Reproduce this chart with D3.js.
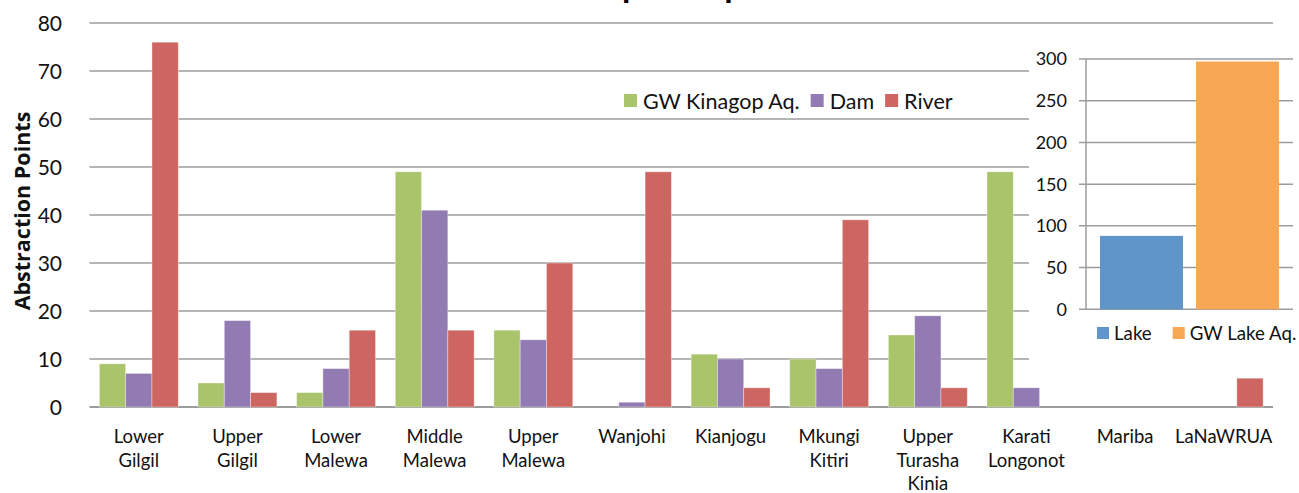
<!DOCTYPE html>
<html>
<head>
<meta charset="utf-8">
<script src="https://cdn.jsdelivr.net/npm/d3@7"></script>
<style>
  html, body { margin: 0; padding: 0; background: #fff; }
  svg { display: block; font-family: Lato, "Open Sans", sans-serif; }
</style>
</head>
<body>
<svg id="chart" width="1299" height="493"></svg>
<script>
// Abstraction points per sub-catchment, split by water source
const categories = ["Lower Gilgil", "Upper Gilgil", "Lower Malewa", "Middle Malewa", "Upper Malewa",
  "Wanjohi", "Kianjogu", "Mkungi Kitiri", "Upper Turasha Kinia", "Karati Longonot", "Mariba", "LaNaWRUA"];
const seriesNames = ["GW Kinagop Aq.", "Dam", "River"];
const gwKinagop = [9, 5, 3, 49, 16, 0, 11, 10, 15, 49, 0, 0];
const dam = [7, 18, 8, 41, 14, 1, 10, 8, 19, 4, 0, 0];
const river = [76, 3, 16, 16, 30, 49, 4, 39, 4, 0, 0, 6];
const yTicks = [0, 10, 20, 30, 40, 50, 60, 70, 80];

// Inset: lake-side abstraction points
const insetSeries = ["Lake", "GW Lake Aq."];
const insetValues = [88, 297];
const insetTicks = [0, 50, 100, 150, 200, 250, 300];

const colors = { "GW Kinagop Aq.": "#a9c46b", "Dam": "#927bb3", "River": "#cd6660",
                 "Lake": "#5f95c9", "GW Lake Aq.": "#f8a855" };
const gridColor = "#9c9c9c";

const svg = d3.select("#chart");

// ---------- main chart ----------
const x0 = d3.scaleBand().domain(categories).range([89.5, 1273]).paddingInner(0).paddingOuter(0);
const x1 = d3.scaleBand().domain(seriesNames)
  .range([x0.bandwidth() * 0.1, x0.bandwidth() * 0.9]).paddingInner(0);
const y = d3.scaleLinear().domain([0, 80]).range([407, 23]);

const seriesData = { "GW Kinagop Aq.": gwKinagop, "Dam": dam, "River": river };

// Title (sits above the frame)
svg.append("text")
  .attr("x", 662).attr("y", -3)
  .attr("text-anchor", "middle")
  .attr("font-size", 34).attr("font-weight", "bold")
  .text("Abstraction points per WRUA");

// Gridlines
svg.append("g").selectAll("line").data(yTicks).join("line")
  .attr("x1", 89.5).attr("x2", 1273)
  .attr("y1", d => y(d)).attr("y2", d => y(d))
  .attr("stroke", gridColor).attr("stroke-width", d => d === 0 ? 2 : 1.5);

// Y tick labels
svg.append("g").selectAll("text").data(yTicks).join("text")
  .attr("x", 62).attr("y", d => y(d))
  .attr("dy", "0.36em").attr("text-anchor", "end")
  .attr("font-size", 21).attr("fill", "#111")
  .text(d => d);

// Y axis title
svg.append("text")
  .attr("transform", "translate(30,211) rotate(-90)")
  .attr("text-anchor", "middle")
  .attr("font-family", "'Open Sans', sans-serif")
  .attr("font-size", 21.5).attr("font-weight", "bold").attr("fill", "#111")
  .text("Abstraction Points");

// Bars
const groups = svg.append("g").selectAll("g").data(categories).join("g")
  .attr("transform", d => `translate(${x0(d)},0)`);
groups.selectAll("rect")
  .data((c, i) => seriesNames.map(s => ({ s, v: seriesData[s][i] })))
  .join("rect")
  .attr("x", d => x1(d.s))
  .attr("width", x1.bandwidth())
  .attr("y", d => y(d.v))
  .attr("height", d => y(0) - y(d.v))
  .attr("fill", d => colors[d.s])
  .attr("stroke", "#ffffff").attr("stroke-opacity", 0.45).attr("stroke-width", 0.8);

// Category labels, one word per line
const xLab = svg.append("g").selectAll("text").data(categories).join("text")
  .attr("x", d => x0(d) + x0.bandwidth() / 2)
  .attr("y", 443)
  .attr("text-anchor", "middle")
  .attr("font-size", 18.5).attr("fill", "#111");
xLab.selectAll("tspan").data(d => d.split(" ")).join("tspan")
  .attr("x", function () { return d3.select(this.parentNode).attr("x"); })
  .attr("dy", (d, i) => i === 0 ? 0 : 23.5)
  .text(d => d);

// Legend
let lx = 624;
seriesNames.forEach(s => {
  svg.append("rect").attr("x", lx).attr("y", 94).attr("width", 13).attr("height", 13).attr("fill", colors[s]);
  const t = svg.append("text").attr("x", lx + 19).attr("y", 101).attr("dy", "0.36em")
    .attr("font-size", 21.5).attr("fill", "#111").text(s);
  lx = lx + 19 + t.node().getComputedTextLength() + 11;
});

// ---------- inset chart ----------
const inset = svg.append("g");
inset.append("rect").attr("x", 1029).attr("y", 40).attr("width", 270).attr("height", 330).attr("fill", "#fff");

const iy = d3.scaleLinear().domain([0, 300]).range([309.3, 59]);
const ix = d3.scaleBand().domain(insetSeries).range([1086, 1293]).paddingInner(0.135).paddingOuter(0.146);

inset.append("g").selectAll("line").data(insetTicks).join("line")
  .attr("x1", 1079).attr("x2", 1293)
  .attr("y1", d => iy(d)).attr("y2", d => iy(d))
  .attr("stroke", gridColor).attr("stroke-width", 1.5);
inset.append("line")
  .attr("x1", 1086).attr("x2", 1086).attr("y1", iy(300)).attr("y2", iy(0))
  .attr("stroke", gridColor).attr("stroke-width", 1.5);

inset.append("g").selectAll("text").data(insetTicks).join("text")
  .attr("x", 1067).attr("y", d => iy(d)).attr("dy", "0.36em")
  .attr("text-anchor", "end").attr("font-size", 18).attr("fill", "#111")
  .text(d => d);

inset.append("g").selectAll("rect").data(insetSeries).join("rect")
  .attr("x", d => ix(d))
  .attr("width", ix.bandwidth())
  .attr("y", (d, i) => iy(insetValues[i]))
  .attr("height", (d, i) => iy(0) - iy(insetValues[i]))
  .attr("fill", d => colors[d]);

let ilx = 1097;
insetSeries.forEach(s => {
  inset.append("rect").attr("x", ilx).attr("y", 327).attr("width", 12).attr("height", 12).attr("fill", colors[s]);
  const t = inset.append("text").attr("x", ilx + 17).attr("y", 333).attr("dy", "0.36em")
    .attr("font-size", 18.7).attr("fill", "#111").text(s);
  ilx = ilx + 17 + t.node().getComputedTextLength() + 21;
});
</script>
</body>
</html>
